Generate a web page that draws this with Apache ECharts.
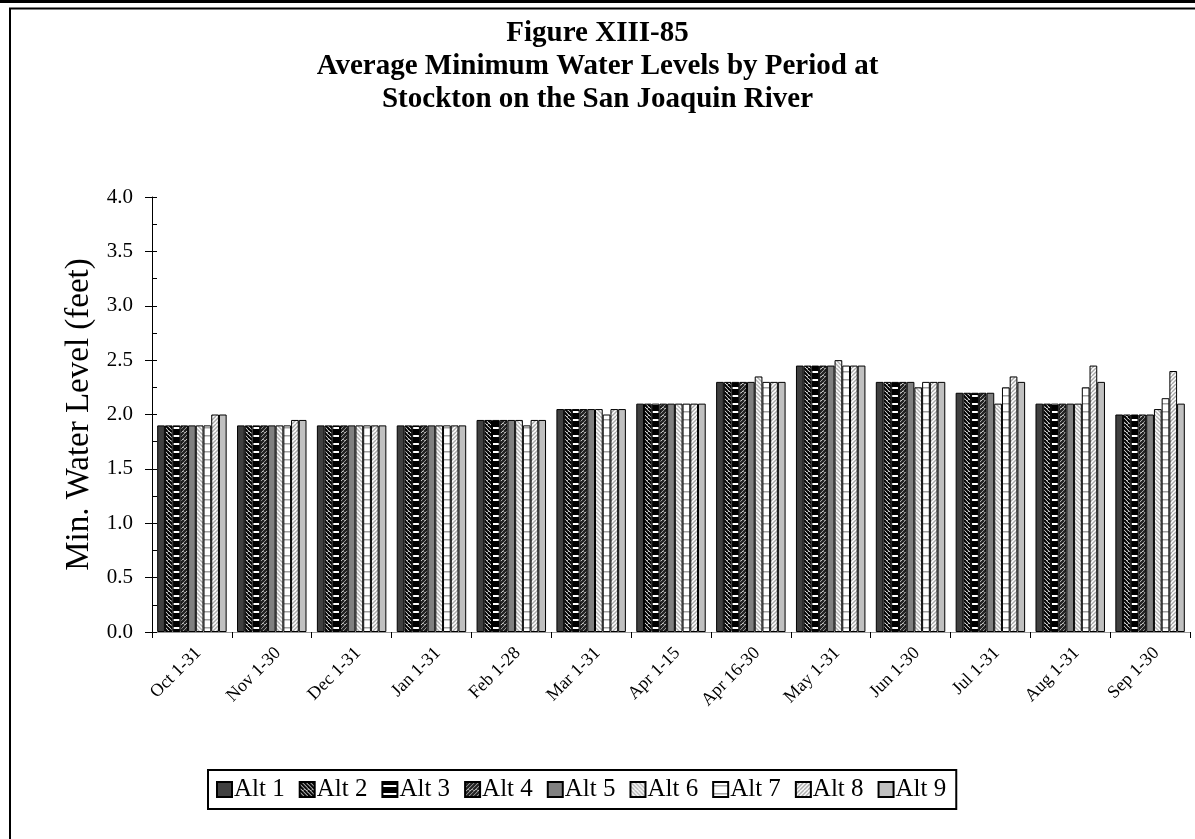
<!DOCTYPE html>
<html>
<head>
<meta charset="utf-8">
<script src="https://cdn.jsdelivr.net/npm/echarts@6/dist/echarts.min.js"></script>
<style>
  html, body { margin: 0; padding: 0; background: #fff; }
  #chart { width: 1195px; height: 839px; }
</style>
</head>
<body>
<div id="chart"></div>
<script>
// Periods along the x axis
const periods = ['Oct 1-31', 'Nov 1-30', 'Dec 1-31', 'Jan 1-31', 'Feb 1-28', 'Mar 1-31',
  'Apr 1-15', 'Apr 16-30', 'May 1-31', 'Jun 1-30', 'Jul 1-31', 'Aug 1-31', 'Sep 1-30'];

// Average minimum water level (feet) per alternative
const alt1 = [1.9, 1.9, 1.9, 1.9, 1.95, 2.05, 2.1, 2.3, 2.45, 2.3, 2.2, 2.1, 2.0];
const alt2 = [1.9, 1.9, 1.9, 1.9, 1.95, 2.05, 2.1, 2.3, 2.45, 2.3, 2.2, 2.1, 2.0];
const alt3 = [1.9, 1.9, 1.9, 1.9, 1.95, 2.05, 2.1, 2.3, 2.45, 2.3, 2.2, 2.1, 2.0];
const alt4 = [1.9, 1.9, 1.9, 1.9, 1.95, 2.05, 2.1, 2.3, 2.45, 2.3, 2.2, 2.1, 2.0];
const alt5 = [1.9, 1.9, 1.9, 1.9, 1.95, 2.05, 2.1, 2.3, 2.45, 2.3, 2.2, 2.1, 2.0];
const alt6 = [1.9, 1.9, 1.9, 1.9, 1.95, 2.05, 2.1, 2.35, 2.5, 2.25, 2.1, 2.1, 2.05];
const alt7 = [1.9, 1.9, 1.9, 1.9, 1.9, 2.0, 2.1, 2.3, 2.45, 2.3, 2.25, 2.25, 2.15];
const alt8 = [2.0, 1.95, 1.9, 1.9, 1.95, 2.05, 2.1, 2.3, 2.45, 2.3, 2.35, 2.45, 2.4];
const alt9 = [2.0, 1.95, 1.9, 1.9, 1.95, 2.05, 2.1, 2.3, 2.45, 2.3, 2.3, 2.3, 2.1];

const altNames = ['Alt 1', 'Alt 2', 'Alt 3', 'Alt 4', 'Alt 5', 'Alt 6', 'Alt 7', 'Alt 8', 'Alt 9'];
const altValues = [alt1, alt2, alt3, alt4, alt5, alt6, alt7, alt8, alt9];

const yTicks = [0, 0.5, 1, 1.5, 2, 2.5, 3, 3.5, 4];

const FONT = '"Liberation Serif", "Times New Roman", serif';

// Fill patterns drawn on small repeating tiles
function tile(bg, draw) {
  const c = document.createElement('canvas');
  c.width = 8; c.height = 8;
  const g = c.getContext('2d');
  g.fillStyle = bg;
  g.fillRect(0, 0, 8, 8);
  draw && draw(g);
  return { image: c, repeat: 'repeat' };
}
function back(fg, w) {
  return g => {
    g.strokeStyle = fg; g.lineWidth = w;
    for (let k = -8; k <= 16; k += 4) {
      g.beginPath(); g.moveTo(k, 0); g.lineTo(k + 8, 8); g.stroke();
    }
  };
}
function fwd(fg, w) {
  return g => {
    g.strokeStyle = fg; g.lineWidth = w;
    for (let k = -8; k <= 16; k += 4) {
      g.beginPath(); g.moveTo(k, 8); g.lineTo(k + 8, 0); g.stroke();
    }
  };
}
function horiz(fg, h) {
  return g => { g.fillStyle = fg; g.fillRect(0, 3, 8, h); };
}

const fills = [
  tile('#404040'),
  tile('#ffffff', back('#000000', 2.2)),
  tile('#000000', horiz('#ffffff', 2)),
  tile('#ffffff', fwd('#202020', 2.4)),
  tile('#808080'),
  tile('#ffffff', back('#b0b0b0', 1.4)),
  tile('#ffffff', horiz('#a0a0a0', 1.5)),
  tile('#ffffff', fwd('#a8a8a8', 1.4)),
  tile('#c0c0c0')
];

const chart = echarts.init(document.getElementById('chart'), null, { renderer: 'canvas' });

const series = altNames.map((name, i) => ({
  name: name,
  type: 'bar',
  data: altValues[i],
  barGap: '0%',
  barCategoryGap: '13%',
  itemStyle: { color: fills[i], borderColor: '#000', borderWidth: 1 },
  emphasis: { disabled: true },
  animation: false
}));

chart.setOption({
  backgroundColor: '#fff',
  animation: false,
  title: {
    text: 'Figure XIII-85\nAverage Minimum Water Levels by Period at\nStockton on the San Joaquin River',
    left: 'center',
    top: 12,
    textStyle: {
      fontFamily: FONT, fontWeight: 'bold', fontSize: 29, color: '#000', lineHeight: 33
    }
  },
  graphic: [
    { type: 'rect', shape: { x: 0, y: 0, width: 1195, height: 3 }, style: { fill: '#000' } },
    { type: 'rect', shape: { x: 10, y: 8.5, width: 1200, height: 850 },
      style: { fill: 'none', stroke: '#000', lineWidth: 2 } }
  ],
  legend: {
    data: altNames,
    left: 208,
    top: 770,
    padding: [7, 10, 7, 8],
    itemGap: 14,
    itemWidth: 15,
    itemHeight: 15,
    icon: 'rect',
    borderColor: '#000',
    borderWidth: 2,
    backgroundColor: '#fff',
    textStyle: { fontFamily: FONT, fontSize: 25, color: '#000', padding: [0, 0, 0, -3] },
    selectedMode: false
  },
  grid: { left: 152, right: 5, top: 197, bottom: 207, containLabel: false },
  xAxis: [
    {
      type: 'category',
      data: periods,
      axisLine: { lineStyle: { color: '#000', width: 1 } },
      axisTick: { show: true, length: 6, lineStyle: { color: '#000' } },
      axisLabel: {
        rotate: 45, interval: 0, margin: 12, verticalAlign: 'top',
        fontFamily: FONT, fontSize: 18, color: '#000'
      }
    },
    {
      type: 'category',
      data: periods,
      position: 'top',
      axisLine: { lineStyle: { color: '#9a9a9a', width: 1 } },
      axisTick: { show: false },
      axisLabel: { show: false }
    }
  ],
  yAxis: [
    {
      type: 'value',
      min: yTicks[0],
      max: yTicks[yTicks.length - 1],
      interval: 0.5,
      name: 'Min. Water Level (feet)',
      nameLocation: 'middle',
      nameGap: 54,
      nameTextStyle: { fontFamily: FONT, fontSize: 33, color: '#000' },
      axisLine: { show: true, lineStyle: { color: '#000', width: 1 } },
      axisTick: { show: true, length: 7, lineStyle: { color: '#000' } },
      axisLabel: {
        fontFamily: FONT, fontSize: 21, color: '#000', margin: 19,
        formatter: v => v.toFixed(1)
      },
      splitLine: { show: false }
    },
    {
      type: 'value',
      min: 0,
      max: 4,
      interval: 0.25,
      position: 'left',
      axisLine: { show: false },
      axisTick: { show: true, inside: true, length: 5, lineStyle: { color: '#000' } },
      axisLabel: { show: false },
      splitLine: { show: false }
    }
  ],
  series: series
});
</script>
</body>
</html>
